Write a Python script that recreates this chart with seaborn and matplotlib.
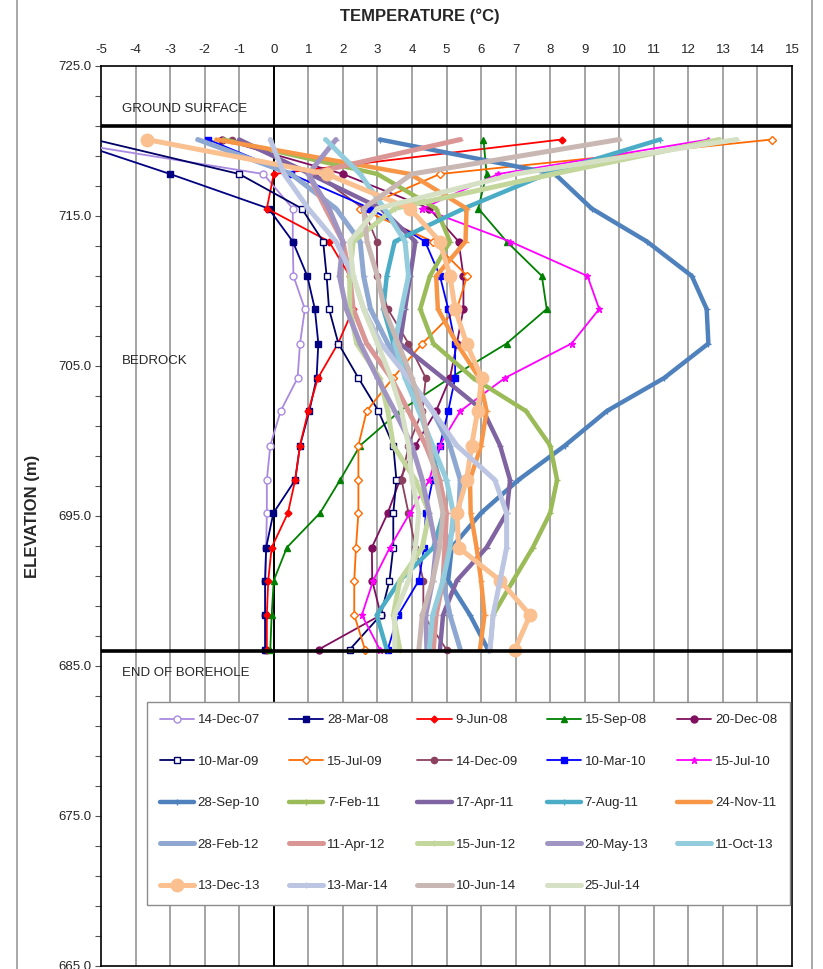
import pandas as pd
import matplotlib.pyplot as plt
from matplotlib.lines import Line2D
from matplotlib.ticker import FixedLocator, FormatStrFormatter
import seaborn as sns
import numpy as np

# elevations of the thermistor beads (m), top to bottom
elev = [720.1, 717.8, 715.5, 713.3, 711.0, 708.8, 706.5, 704.2,
        702.0, 699.7, 697.4, 695.2, 692.9, 690.7, 688.4, 686.1]

# temperature readings (deg C), one list per survey date
dec07 = [-6.5, -0.3, 0.55, 0.55, 0.57, 0.9, 0.76, 0.69, 0.2, -0.1, -0.2, -0.2, -0.22, -0.25, -0.25, -0.25]
mar08 = [-6.0, -3.0, -0.15, 0.55, 0.97, 1.19, 1.29, 1.24, 1.03, 0.76, 0.62, -0.01, -0.22, -0.25, -0.25, -0.25]
jun08 = [8.33, 0.0, -0.2, 1.6, 2.2, 2.3, 1.86, 1.28, 1.0, 0.76, 0.62, 0.41, -0.06, -0.16, -0.2, -0.2]
sep08 = [6.07, 6.16, 5.92, 6.74, 7.76, 7.9, 6.74, 5.1, 3.65, 2.5, 1.92, 1.34, 0.38, 0.0, -0.06, -0.1]
dec08 = [-1.5, 2.0, 4.5, 5.35, 5.49, 5.49, 5.3, 5.1, 4.7, 4.1, 3.65, 3.3, 2.84, 2.85, 3.1, 1.3]
mar09 = [-5.2, -1.0, 0.81, 1.43, 1.53, 1.6, 1.87, 2.45, 3.03, 3.46, 3.55, 3.46, 3.46, 3.35, 3.1, 2.2]
jul09 = [14.42, 4.81, 2.5, 4.6, 5.6, 5.3, 4.3, 3.45, 2.69, 2.45, 2.45, 2.45, 2.38, 2.33, 2.33, 2.64]
dec09 = [-1.2, 1.2, 2.6, 2.98, 3.0, 3.3, 3.9, 4.4, 4.3, 3.9, 3.7, 3.9, 4.1, 4.33, 4.33, 5.0]
mar10 = [-1.9, 0.5, 2.8, 4.38, 4.81, 5.05, 5.25, 5.25, 5.05, 4.81, 4.6, 4.4, 4.35, 4.2, 3.6, 3.3]
jul10 = [12.58, 6.5, 4.3, 6.84, 9.08, 9.42, 8.62, 6.69, 5.4, 4.8, 4.5, 3.94, 3.36, 2.88, 2.55, 3.07]
sep10 = [3.07, 8.14, 9.2, 10.8, 12.1, 12.53, 12.58, 11.3, 9.64, 8.43, 7.08, 6.0, 5.15, 5.05, 5.68, 6.2]
feb11 = [-1.46, 3.0, 4.7, 5.1, 4.52, 4.24, 4.62, 5.77, 7.3, 8.0, 8.2, 8.0, 7.5, 6.93, 6.35, 6.26]
apr11 = [-1.0, 1.05, 3.1, 4.1, 3.95, 3.8, 3.65, 4.9, 6.07, 6.55, 6.84, 6.74, 6.16, 5.3, 4.9, 4.81]
aug11 = [11.18, 7.9, 5.5, 3.5, 3.27, 3.17, 3.46, 3.9, 4.23, 4.52, 4.8, 4.91, 4.62, 3.65, 2.98, 3.27]
nov11 = [-1.66, 3.95, 5.58, 5.55, 4.7, 4.75, 5.3, 5.95, 6.16, 6.0, 5.68, 5.7, 5.87, 6.0, 6.1, 5.97]
feb12 = [-2.2, 0.5, 1.8, 2.5, 2.6, 2.8, 3.3, 3.9, 4.6, 5.1, 5.4, 5.35, 5.0, 4.9, 5.1, 5.4]
apr12 = [5.4, 1.0, 1.5, 2.0, 2.2, 2.3, 2.69, 3.4, 3.9, 4.4, 4.8, 5.0, 4.95, 4.9, 4.7, 4.62]
jun12 = [12.9, 8.1, 3.5, 2.3, 2.2, 2.2, 2.4, 3.07, 3.3, 3.46, 4.1, 4.5, 4.3, 3.65, 3.46, 3.65]
may13 = [1.8, 1.0, 1.6, 2.0, 1.9, 2.1, 2.5, 3.0, 3.5, 4.0, 4.3, 4.5, 4.7, 4.6, 4.4, 4.43]
oct13 = [1.5, 2.5, 3.2, 3.8, 3.9, 3.7, 3.5, 3.8, 4.2, 4.6, 5.0, 5.2, 5.1, 4.9, 4.6, 4.5]
dec13 = [-3.68, 1.53, 3.94, 4.81, 5.1, 5.25, 5.58, 6.02, 5.9, 5.73, 5.58, 5.3, 5.35, 6.55, 7.42, 6.98]
mar14 = [-0.1, 0.3, 1.0, 1.8, 2.3, 2.6, 3.1, 3.9, 4.6, 5.3, 6.4, 6.74, 6.74, 6.55, 6.35, 6.26]
jun14 = [10.0, 4.0, 2.6, 2.7, 3.0, 3.2, 3.6, 4.0, 4.3, 4.5, 4.7, 4.9, 4.8, 4.6, 4.3, 4.2]
jul14 = [13.4, 7.0, 3.0, 2.2, 2.3, 2.6, 3.0, 3.4, 3.7, 3.9, 4.0, 4.2, 4.1, 3.9, 3.5, 3.5]

dates = ['14-Dec-07', '28-Mar-08', '9-Jun-08', '15-Sep-08', '20-Dec-08',
         '10-Mar-09', '15-Jul-09', '14-Dec-09', '10-Mar-10', '15-Jul-10',
         '28-Sep-10', '7-Feb-11', '17-Apr-11', '7-Aug-11', '24-Nov-11',
         '28-Feb-12', '11-Apr-12', '15-Jun-12', '20-May-13', '11-Oct-13',
         '13-Dec-13', '13-Mar-14', '10-Jun-14', '25-Jul-14']
temps = [dec07, mar08, jun08, sep08, dec08, mar09, jul09, dec09, mar10, jul10,
         sep10, feb11, apr11, aug11, nov11, feb12, apr12, jun12, may13, oct13,
         dec13, mar14, jun14, jul14]

# (color, marker, markersize, facecolor, linewidth)
styles = [
    ('#a98ae0', 'o', 5, 'white', 1.3),
    ('#000080', 's', 5, None, 1.3),
    ('#ff0000', 'D', 3.5, None, 1.3),
    ('#008000', '^', 4.5, None, 1.3),
    ('#80105f', 'o', 5, None, 1.3),
    ('#000066', 's', 5, 'white', 1.3),
    ('#ff6a00', 'D', 4, 'white', 1.3),
    ('#8c4060', 'o', 4.5, None, 1.3),
    ('#0000ff', 's', 5, None, 1.3),
    ('#ff00ff', '*', 5, None, 1.3),
    ('#4f81bd', '+', 4, None, 3.2),
    ('#9bbb59', '+', 4, None, 3.2),
    ('#8064a2', '_', 4, None, 3.2),
    ('#4bacc6', '+', 4, None, 3.2),
    ('#f79646', '_', 4, None, 3.2),
    ('#8ea8d2', '_', 4, None, 3.6),
    ('#d99694', '_', 4, None, 3.6),
    ('#c3d69b', '+', 4, None, 3.6),
    ('#9f94c2', '_', 4, None, 3.6),
    ('#93cddd', '_', 4, None, 3.6),
    ('#fac090', 'o', 9, None, 3.6),
    ('#bcc5e2', '+', 4, None, 3.6),
    ('#c9b7b3', '_', 4, None, 3.6),
    ('#d6e0c4', '_', 4, None, 3.6),
]

sns.set_style('white')
plt.rcParams['font.family'] = ['Liberation Sans', 'DejaVu Sans']
plt.rcParams['axes.unicode_minus'] = False

fig = plt.figure(figsize=(8.23, 9.69), dpi=100)
ax = fig.add_axes([101 / 823, 3 / 969, 691 / 823, 900 / 969])

# vertical grid lines every degree
for t in range(-4, 15):
    ax.axvline(t, color='#8c8c8c', lw=1.1, zorder=0)
ax.axvline(0, color='black', lw=1.4, zorder=1)

for name, vals, (col, mk, ms, fc, lw) in zip(dates, temps, styles):
    df = pd.DataFrame({'temp': vals, 'elev': elev})
    sns.lineplot(data=df, x='temp', y='elev', sort=False, estimator=None,
                 ax=ax, color=col, lw=lw, marker=mk, markersize=ms,
                 markerfacecolor=fc if fc else col, markeredgecolor=col,
                 markeredgewidth=1.0, label=name, zorder=3)

ax.axhline(721, color='black', lw=2.6, zorder=5)
ax.axhline(686, color='black', lw=2.6, zorder=5)

ax.set_xlim(-5, 15)
ax.set_ylim(665, 725)
ax.xaxis.tick_top()
ax.set_xticks(range(-5, 16))
ax.tick_params(axis='x', top=True, bottom=False, length=0, pad=7.5, labelsize=9.5)
ax.yaxis.set_major_locator(FixedLocator(np.arange(665, 726, 10)))
ax.yaxis.set_minor_locator(FixedLocator(np.arange(665, 726, 2)))
ax.yaxis.set_major_formatter(FormatStrFormatter('%.1f'))
ax.tick_params(axis='y', which='both', left=True, direction='out', length=4,
               width=0.8, labelsize=9.5, pad=3, color='#555555')
for s in ax.spines.values():
    s.set_color('black')
    s.set_linewidth(1.2)
ax.set_xlabel('')
ax.set_ylabel('ELEVATION (m)', fontsize=12, fontweight='bold')
ax.yaxis.set_label_coords(-0.088, 0.5)

ax.text(-4.4, 722.1, 'GROUND SURFACE', fontsize=9.5, va='center', ha='left')
ax.text(-4.4, 705.3, 'BEDROCK', fontsize=9.5, va='center', ha='left')
ax.text(-4.4, 684.5, 'END OF BOREHOLE', fontsize=9.5, va='center', ha='left')

fig.text(420 / 823, 1 - 16 / 969, 'TEMPERATURE (°C)', fontsize=12,
         fontweight='bold', ha='center', va='center')

# legend laid out row by row like the original
handles, labels = ax.get_legend_handles_labels()
order = [r * 5 + c for c in range(5) for r in range(5) if r * 5 + c < len(labels)]
leg = ax.legend([handles[i] for i in order], [labels[i] for i in order],
                ncol=5, loc='lower left',
                bbox_to_anchor=(46 / 691, 61 / 900, 643 / 691, 208 / 900),
                mode='expand', borderaxespad=0, fontsize=9.5, frameon=True,
                fancybox=False, edgecolor='#8c8c8c', framealpha=1,
                labelspacing=2.22, handlelength=2.6, handletextpad=0.3,
                borderpad=0.95, columnspacing=0.8)
leg.get_frame().set_linewidth(1.0)
leg.set_zorder(10)

# chart area border lines
fig.add_artist(Line2D([17 / 823, 17 / 823], [0, 1], color='#9a9a9a', lw=1.2))
fig.add_artist(Line2D([812 / 823, 812 / 823], [0, 1], color='#9a9a9a', lw=1.2))

fig.savefig('out.png', dpi=100)
